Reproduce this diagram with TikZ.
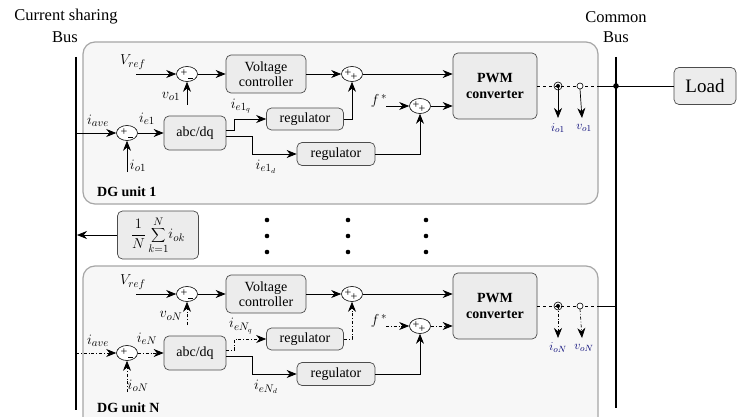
\documentclass[tikz,border=0pt]{standalone}
\usepackage{fontspec}
\setmainfont{Liberation Serif}
\usetikzlibrary{arrows.meta,shapes.geometric}
\tikzset{
 arr/.style={-{Stealth[length=10pt,width=8pt]}, line width=0.7pt},
 sumc/.style={ellipse, draw, line width=0.6pt, minimum width=21pt, minimum height=15pt, inner sep=0pt, fill=white},
 blk/.style={draw=gray!60!black, fill=gray!15, rounded corners=5pt, line width=0.7pt, align=center, font=\fontsize{14}{15}\selectfont, inner sep=0pt},
 unitbox/.style={draw=gray!70, fill=gray!6, rounded corners=12pt, line width=1.2pt},
 lbl/.style={font=\fontsize{15}{15}\selectfont, inner sep=0pt},
 sg/.style={font=\fontsize{12}{12}\selectfont, inner sep=0pt},
 sens/.style={font=\fontsize{13}{13}\selectfont, inner sep=0pt, text=blue!45!black},
 ttl/.style={font=\fontsize{16.5}{16.5}\selectfont, inner sep=0pt},
 buswire/.style={line width=2.5pt},
 dgl/.style={font=\fontsize{14}{14}\selectfont\bfseries, inner sep=0pt, anchor=west},
}
\newcommand\dgunit[4]{%
\begin{scope}[shift={(0,#2)}]
\node[blk, minimum width=80pt, minimum height=38pt] (vc#1) at (266,74) {Voltage\\controller};
\node[blk, minimum width=84pt, minimum height=66pt, font=\fontsize{14}{16}\selectfont\bfseries] (pwm#1) at (495,86) {PWM\\converter};
\node[blk, minimum width=62pt, minimum height=34pt] (abc#1) at (195,133) {abc/dq};
\node[blk, minimum width=77pt, minimum height=22pt] (ra#1) at (305,119) {regulator};
\node[blk, minimum width=78pt, minimum height=23pt] (rb#1) at (336,154) {regulator};
\node[sumc] (s1#1) at (187,74) {};
\node[sumc] (s2#1) at (352,74) {};
\node[sumc] (s3#1) at (420,106) {};
\node[sumc] (s4#1) at (127,133) {};
\node[sg] at ([shift={(-3,-1)}]s1#1.center) {+};
\draw ([shift={(1,4)}]s1#1.center) -- ++(5,0);
\node[sg] at ([shift={(-3,-1)}]s4#1.center) {+};
\draw ([shift={(1,4)}]s4#1.center) -- ++(5,0);
\node[sg] at ([shift={(-4,-1)}]s2#1.center) {+};
\node[sg] at ([shift={(2,3)}]s2#1.center) {+};
\node[sg] at ([shift={(-4,-1)}]s3#1.center) {+};
\node[sg] at ([shift={(2,3)}]s3#1.center) {+};
% reference voltage
\coordinate (vr#1) at (136,74);
\node[lbl] at (133,62) {\(V_{ref}\)};
\draw[arr] (vr#1) -- (s1#1.west);
\coordinate (vo#1) at (187,105);
\node[lbl] at (171,96) {\(v_{o#3}\)};
\draw[arr,#4] (vo#1) -- (s1#1.south);
\draw[arr] (s1#1.east) -- (vc#1.west);
\draw[arr] (vc#1.east) -- (s2#1.west);
\draw[arr] (s2#1.east) -- (s2#1.east -| pwm#1.west);
\draw[arr,#4] (ra#1.east) -| (s2#1.south);
\draw[arr] (rb#1.east) -| (s3#1.south);
\draw[arr,#4] (s3#1.east) -- (s3#1.east -| pwm#1.west);
\coordinate (fs#1) at (386,106);
\node[lbl] at (379,101) {\(f^{\,*}\)};
\draw[arr,#4] (fs#1) -- (s3#1.west);
% abc/dq outputs
\draw[arr,#4] ([yshift=3pt]abc#1.east) -- ++(8,0) |- (ra#1.west);
\draw[arr] ([yshift=-3pt]abc#1.east) -- ++(26,0) |- (rb#1.west);
\node[lbl] at (241,106) {\(i_{e#3_q}\)};
\node[lbl] at (266,167) {\(i_{e#3_d}\)};
% current input
\coordinate (ia#1) at (76,133);
\draw[arr,#4] (ia#1) -- (s4#1.west);
\draw[arr,#4] (s4#1.east) -- (abc#1.west);
\coordinate (io#1) at (127,172);
\draw[arr,#4] (io#1) -- (s4#1.south);
\node[lbl] at (98,121) {\(i_{ave}\)};
\node[lbl] at (147,119) {\(i_{e#3}\)};
\node[lbl] at (138,166) {\(i_{o#3}\)};
% output and sensors
\coordinate (cs#1) at (558,86);
\coordinate (vs#1) at (580,86);
\coordinate (ed#1) at (598,86);
\coordinate (cb#1) at (616,86);
\draw[dashed, line width=0.7pt] (pwm#1.east) -- (ed#1);
\draw[line width=0.7pt] (ed#1) -- (cb#1);
\draw[arr,#4] (cs#1) -- ++(0,32);
\draw[line width=0.6pt] (cs#1) circle (4pt);
\fill (cs#1) circle (2pt);
\draw[arr,#4] ([yshift=-3pt]vs#1) -- ++(2,29);
\draw[line width=0.6pt, fill=white] (vs#1) circle (3pt);
\node[sens] at (558,128) {\(i_{o#3}\)};
\node[sens] at (584,128) {\(v_{o#3}\)};
\end{scope}}
\begin{document}
\begin{tikzpicture}[x=1pt,y=-1pt]
\clip (0,0) rectangle (741,417);
\fill[white] (0,0) rectangle (741,417);
\node[ttl] (t1) at (66,17) {Current sharing};
\node[ttl] (t2) at (65,37) {Bus};
\node[ttl] (t3) at (616,17) {Common};
\node[ttl] (t4) at (616,37) {Bus};
\draw[unitbox] (83,42) rectangle (598,204);
\draw[unitbox] (83,266) rectangle (598,440);
\dgunit{a}{0}{1}{solid}
\dgunit{b}{220}{N}{dashdotted}
\node[dgl] (dg1) at (97,192) {DG unit 1};
\node[dgl] (dgN) at (97,408) {DG unit N};
\fill (cba) circle (2.8pt);
\node[blk, minimum width=62pt, minimum height=37pt, font=\fontsize{19}{20}\selectfont] (load) at (705,86) {Load};
\draw[line width=0.7pt] (cba) -- (load.west);
% buses
\coordinate (lbt) at (76,57);
\coordinate (lbb) at (76,410);
\coordinate (cbt) at (616,57);
\coordinate (cbb) at (616,408);
\draw[buswire] (lbt) -- (lbb);
\draw[buswire] (cbt) -- (cbb);
% average block
\node[blk, minimum width=81pt, minimum height=48pt, font=\fontsize{15}{15}\selectfont] (avg) at (158,235) {\(\displaystyle\frac{1}{N}\sum_{k=1}^{N}\! i_{ok}\)};
\coordinate (avgb) at (77,235);
\draw[arr] (avg.west) -- (avgb);
% dots
\foreach \x in {267,348,426} \foreach \y in {220,236,252} \fill (\x,\y) circle (2.3pt);
\end{tikzpicture}
\end{document}
